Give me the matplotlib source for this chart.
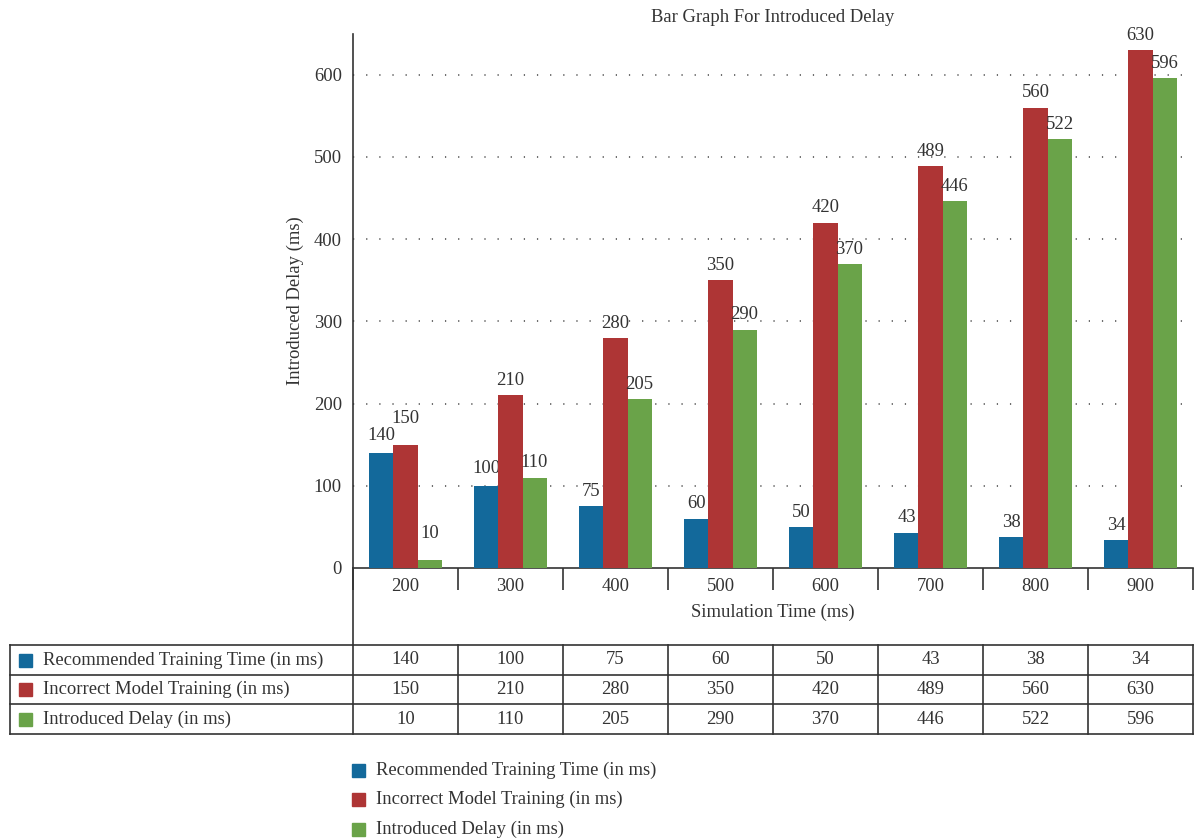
import numpy as np
import matplotlib.pyplot as plt
from matplotlib.patches import Rectangle
from matplotlib.lines import Line2D

plt.rcParams['font.family'] = ['Liberation Serif', 'DejaVu Serif']
plt.rcParams['font.size'] = 13.4

# simulation times (ms) and the three measured series
sim_time = ['200', '300', '400', '500', '600', '700', '800', '900']
recommended = [140, 100, 75, 60, 50, 43, 38, 34]
incorrect = [150, 210, 280, 350, 420, 489, 560, 630]
delay = [10, 110, 205, 290, 370, 446, 522, 596]

names = ['Recommended Training Time (in ms)',
         'Incorrect Model Training (in ms)',
         'Introduced Delay (in ms)']
colors = ['#13699b', '#ae3535', '#6aa349']
series = [recommended, incorrect, delay]
fs = 13.4
tc = '#333333'

W, H = 1202, 840
fig = plt.figure(figsize=(W / 100, H / 100), dpi=100)

def fx(px):
    return px / W

def fy(py):
    return 1 - py / H

x0, x1, y0, y1 = 353, 1193, 568, 33.6
ax = fig.add_axes([fx(x0), fy(y0), fx(x1) - fx(x0), fy(y1) - fy(y0)])

# labels in the first groups sit a bit higher so they don't collide
lift = {(0, 0): 2, (1, 0): 8, (2, 0): 8.5, (0, 1): 2}

x = np.arange(len(sim_time))
bw = 0.2286
for k, (vals, c) in enumerate(zip(series, colors)):
    pos = x + (k - 1) * bw
    ax.bar(pos, vals, width=bw, color=c, zorder=3)
    for i, (p, v) in enumerate(zip(pos, vals)):
        ax.annotate(str(v), (p, v), xytext=(0, 4.5 + lift.get((k, i), 0)),
                    textcoords='offset points', ha='center', va='bottom',
                    fontsize=fs, color=tc)

ax.set_xlim(-0.5, len(sim_time) - 0.5)
ax.set_ylim(0, 650)
ax.set_yticks(range(0, 700, 100))
ax.set_xticks(x)
ax.set_xticklabels(sim_time)
ax.set_xticks(np.arange(-0.5, len(sim_time)), minor=True)
ax.tick_params(axis='x', which='major', length=0, pad=7, labelsize=fs, labelcolor=tc)
ax.tick_params(axis='x', which='minor', length=16, width=1.2, color=tc, direction='out')
ax.tick_params(axis='y', length=0, pad=8, labelsize=fs, labelcolor=tc)

for yv in range(100, 700, 100):
    ax.axhline(yv, color='#444444', lw=1.1, ls=(0, (0.8, 7.8)), zorder=1)

for s in ['top', 'right']:
    ax.spines[s].set_visible(False)
for s in ['left', 'bottom']:
    ax.spines[s].set_color(tc)
    ax.spines[s].set_linewidth(1.2)

ax.set_title('Bar Graph For Introduced Delay', fontsize=fs, color=tc, pad=8)
ax.set_ylabel('Introduced Delay (ms)', fontsize=fs, color=tc, labelpad=7)
ax.set_xlabel('Simulation Time (ms)', fontsize=fs, color=tc, labelpad=6)

# y axis line continues down to the data table
fig.add_artist(Line2D([fx(x0), fx(x0)], [fy(y0), fy(645)], color=tc, lw=1.2))

# data table under the chart
rows_y = [645, 675, 704, 734]
col_x = [10, x0] + [x0 + (x1 - x0) / len(sim_time) * (i + 1) for i in range(len(sim_time))]
for yy in rows_y:
    fig.add_artist(Line2D([fx(10), fx(x1)], [fy(yy), fy(yy)], color=tc, lw=1.2))
for xx in col_x:
    fig.add_artist(Line2D([fx(xx), fx(xx)], [fy(rows_y[0]), fy(rows_y[-1])], color=tc, lw=1.2))
for r, (name, c, vals) in enumerate(zip(names, colors, series)):
    yc = (rows_y[r] + rows_y[r + 1]) / 2
    fig.add_artist(Rectangle((fx(19), fy(yc + 6.5)), fx(13), 13 / H, color=c))
    fig.text(fx(43), fy(yc), name, ha='left', va='center', fontsize=fs, color=tc)
    for i, v in enumerate(vals):
        xc = (col_x[i + 1] + col_x[i + 2]) / 2
        fig.text(fx(xc), fy(yc), str(v), ha='center', va='center', fontsize=fs, color=tc)

# legend
for r, (name, c) in enumerate(zip(names, colors)):
    yc = 770 + r * 29.5
    fig.add_artist(Rectangle((fx(352), fy(yc + 6.5)), fx(13), 13 / H, color=c))
    fig.text(fx(376), fy(yc), name, ha='left', va='center', fontsize=fs, color=tc)

fig.savefig('out.png', dpi=100)
